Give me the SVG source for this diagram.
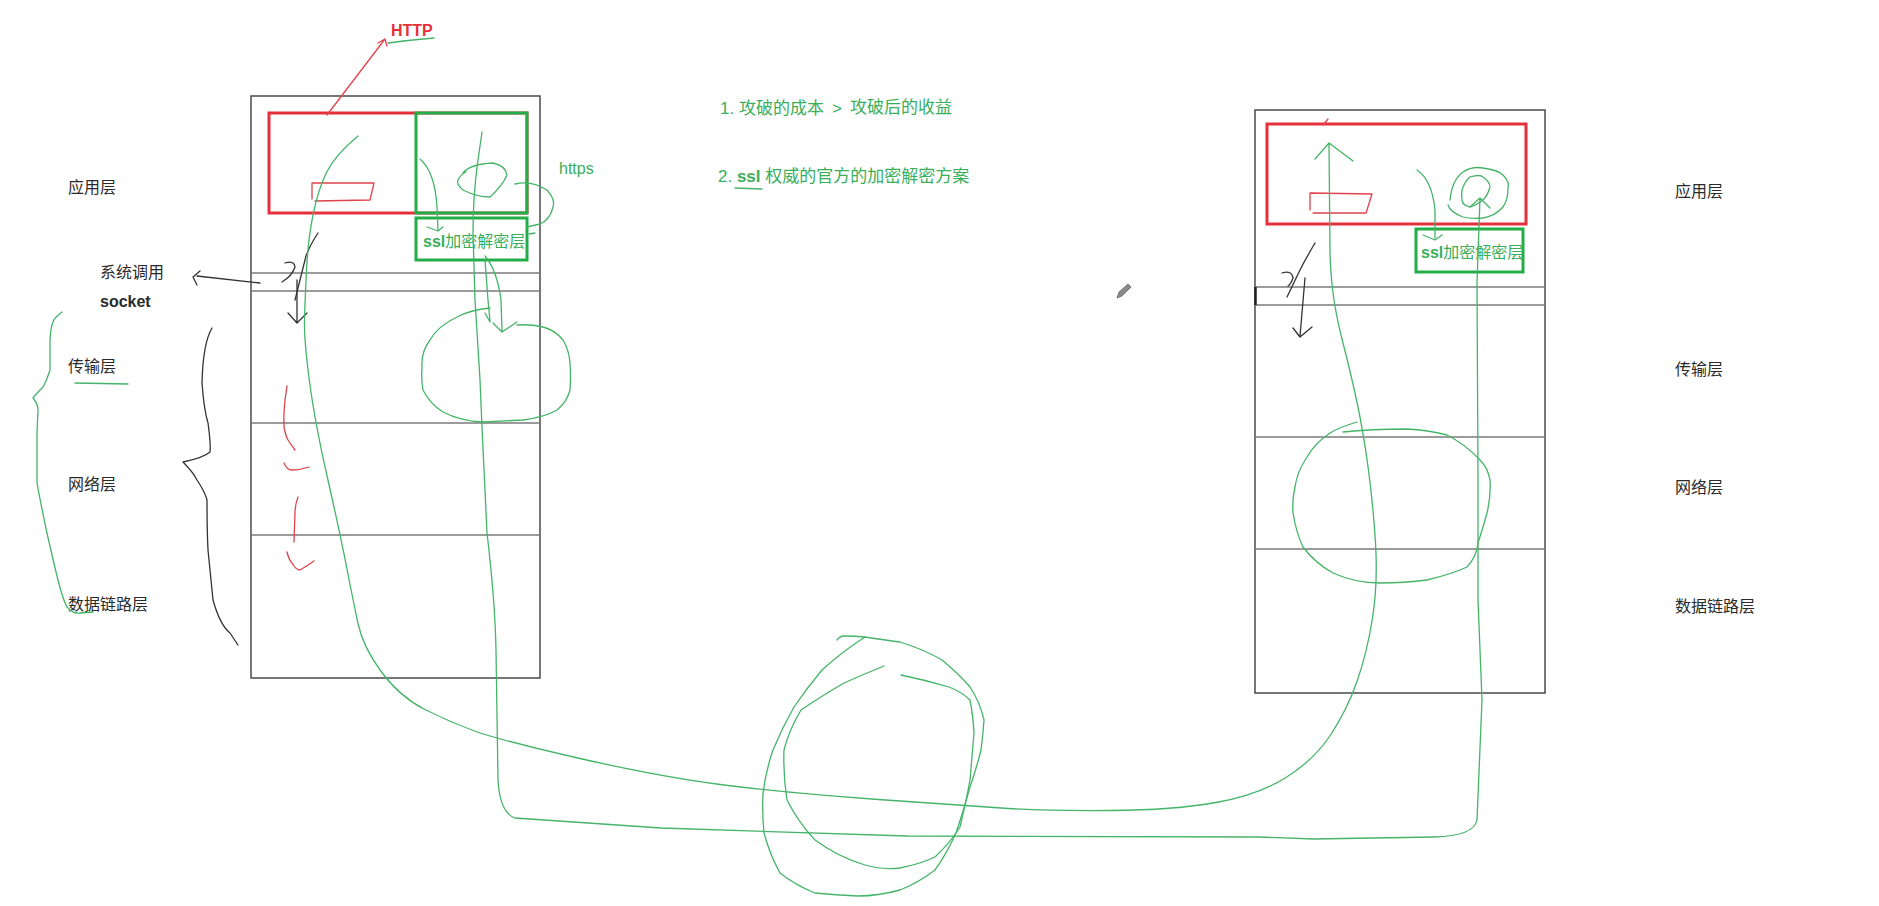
<svg xmlns="http://www.w3.org/2000/svg" width="1879" height="906" viewBox="0 0 1879 906">
<style>
.bg{fill:#ffffff}
.frame{fill:none;stroke:#4a4a4a;stroke-width:1.5}
.sep{stroke:#7a7a7a;stroke-width:1.3}
.redbox{fill:none;stroke:#e5303b;stroke-width:3}
.grnbox{fill:none;stroke:#22ad48;stroke-width:3}
.g{fill:none;stroke:#45b468;stroke-width:1.3;stroke-linecap:round;stroke-linejoin:round}
.r{fill:none;stroke:#e0434b;stroke-width:1.3;stroke-linecap:round;stroke-linejoin:round}
.k{fill:none;stroke:#333333;stroke-width:1.3;stroke-linecap:round;stroke-linejoin:round}
.lbl{font-family:"Liberation Sans","Noto Sans CJK SC",sans-serif;font-size:16px;fill:#2a2a2a}
.gt{font-family:"Liberation Sans","Noto Sans CJK SC",sans-serif;font-size:17px;fill:#3aae5a}
.st{font-family:"Liberation Sans","Noto Sans CJK SC",sans-serif;font-size:16px;fill:#3aae5a}
.b{font-weight:bold}
</style>
<rect class="bg" x="0" y="0" width="1879" height="906"/>

<g id="left-stack">
  <rect class="frame" x="251" y="96" width="289" height="582"/>
  <line class="sep" x1="251" y1="273" x2="540" y2="273"/>
  <line class="sep" x1="251" y1="291" x2="540" y2="291"/>
  <line class="sep" x1="251" y1="423" x2="540" y2="423"/>
  <line class="sep" x1="251" y1="535" x2="540" y2="535"/>
  <rect class="redbox" x="269" y="113" width="258" height="100"/>
  <rect class="grnbox" x="416" y="113" width="111" height="100"/>
  <rect class="grnbox" x="416" y="218" width="111" height="42"/>
  <text class="st" x="423" y="247"><tspan class="b">ssl</tspan>加密解密层</text>
</g>

<g id="right-stack">
  <rect class="frame" x="1255" y="110" width="290" height="583"/>
  <line class="sep" x1="1255" y1="287" x2="1545" y2="287"/>
  <line class="sep" x1="1255" y1="305" x2="1545" y2="305"/>
  <line class="sep" x1="1255" y1="437" x2="1545" y2="437"/>
  <line class="sep" x1="1255" y1="549" x2="1545" y2="549"/>
  <line x1="1255.5" y1="287" x2="1255.5" y2="305" stroke="#222" stroke-width="2.5"/>
  <rect class="redbox" x="1267" y="124" width="259" height="100"/>
  <rect class="grnbox" x="1416" y="229" width="107" height="43"/>
  <text class="st" x="1421" y="258"><tspan class="b">ssl</tspan>加密解密层</text>
</g>

<g id="left-labels">
  <text class="lbl" x="68" y="193">应用层</text>
  <text class="lbl" x="100" y="278">系统调用</text>
  <text class="lbl b" x="100" y="307">socket</text>
  <text class="lbl" x="68" y="372">传输层</text>
  <text class="lbl" x="68" y="490">网络层</text>
  <text class="lbl" x="68" y="610">数据链路层</text>
</g>

<g id="right-labels">
  <text class="lbl" x="1675" y="197">应用层</text>
  <text class="lbl" x="1675" y="375">传输层</text>
  <text class="lbl" x="1675" y="493">网络层</text>
  <text class="lbl" x="1675" y="612">数据链路层</text>
</g>

<g id="notes">
  <text x="391" y="36" font-family="Liberation Sans, sans-serif" font-size="16" font-weight="bold" fill="#e5303b">HTTP</text>
  <text class="st" x="559" y="174">https</text>
  <text class="gt" x="720" y="114">1. 攻破的成本</text>
  <text class="gt" x="832" y="114">&gt;</text>
  <text class="gt" x="850" y="113">攻破后的收益</text>
  <text class="gt" x="718" y="182">2. <tspan class="b">ssl</tspan> 权威的官方的加密解密方案</text>
  <path class="g" d="M735,188 L762,189"/>
</g>

<g id="connectors">
  <!-- red HTTP arrow -->
  <path class="r" d="M327,115 L385,39 M378,43 L385,39 L387,46"/>
  <path class="g" d="M388,43 Q410,40 434,38"/>
  <!-- red small rects -->
  <path class="r" d="M312,183 L374,183 L370,200 L315,201 M312,183 L312,199"/>
  <path class="r" d="M1310,193 L1372,194 L1367,210 L1366,213 L1313,213 M1310,193 L1310,210"/>
  <path class="r" d="M1323,125 L1328,119"/>
  <!-- red dashes -->
  <path class="r" d="M287,386 Q283,410 284,427 Q286,437 288,440 Q292,446 295,450"/>
  <path class="r" d="M284,463 Q287,470 292,470 Q300,470 309,467"/>
  <path class="r" d="M298,497 Q295,505 295,513 L294,542"/>
  <path class="r" d="M287,552 Q289,560 292,563 Q296,570 300,570 Q307,566 314,561"/>

  <!-- black system call arrow -->
  <path class="k" d="M260,283 L197,276 M200,271 L193,277 L197,285"/>
  <!-- black squiggles left -->
  <path class="k" d="M318,233 Q310,245 306,256 L295,300"/>
  <path class="k" d="M285,263 Q294,260 295,267 Q292,276 282,282"/>
  <path class="k" d="M297,280 L297,322 M288,313 L297,323 L307,313"/>
  <!-- black squiggles right -->
  <path class="k" d="M1315,243 Q1305,260 1300,270 L1287,297"/>
  <path class="k" d="M1282,273 Q1292,270 1293,278 Q1291,284 1288,286"/>
  <path class="k" d="M1305,278 L1300,336 M1293,328 L1300,337 L1312,327"/>
  <!-- black brace -->
  <path class="k" d="M212,328 Q203,343 202,383 Q204,410 208,423 Q211,445 210,452 Q203,458 183,462 Q193,472 197,480 Q205,492 207,500 Q207,530 208,550 Q211,580 213,600 Q220,625 230,633 L238,645"/>

  <!-- green brace and underline -->
  <path class="g" d="M62,312 Q54,318 53,322 Q50,330 50,343 L50,370 Q46,382 43,387 Q36,394 33,398 Q38,404 38,410 L37,433 L37,483 Q42,510 47,533 Q53,560 58,580 Q63,600 67,607 Q73,614 80,613 L93,612"/>
  <path class="g" d="M75,383 L128,384"/>

  <!-- green marks in left app layer -->
  <path class="g" d="M420,159 Q435,172 437,207 L438,230 M427,227 L438,231 L443,227"/>
  <path class="g" d="M463,173 Q470,164 493,163 Q506,166 507,175 Q503,185 490,197 Q477,197 463,190 Q456,184 458,180 Q461,174 466,172"/>
  <path class="g" d="M515,184 Q531,180 547,190 Q556,200 553,207 Q550,220 540,224 L527,227 M529,234 L535,233"/>
  <path class="g" d="M485,256 Q497,270 501,300 L502,331 M493,323 L502,332 L517,322"/>
  <path class="g" d="M485,260 L488,300 L490,321 M485,313 L490,322"/>
  <!-- left big circle -->
  <path class="g" d="M490,308 Q470,310 457,317 Q438,326 430,340 Q421,352 422,367 Q421,380 423,390 Q430,404 443,412 Q460,421 483,422 L523,420 Q545,417 557,410 Q567,402 570,390 Q571,377 570,363 Q569,350 563,340 Q555,330 543,327 Q530,324 517,325"/>

  <!-- green marks in right app layer -->
  <path class="g" d="M1417,170 Q1432,180 1435,210 L1435,238 M1423,235 L1435,240 L1442,235"/>
  <path class="g" d="M1450,200 Q1452,180 1463,172 Q1472,166 1483,168 Q1498,170 1503,175 Q1510,182 1508,188 Q1508,200 1503,207 Q1495,216 1483,218 Q1470,219 1463,217 Q1450,212 1448,205"/>
  <path class="g" d="M1470,177 Q1480,174 1483,177 Q1490,182 1490,187 Q1488,195 1483,200 Q1475,206 1470,207 Q1462,205 1462,200 Q1461,192 1463,187 Q1466,180 1470,177"/>
  <!-- right big circle -->
  <path class="g" d="M1357,422 Q1340,427 1330,433 Q1315,443 1307,457 Q1297,472 1295,487 Q1292,500 1293,513 Q1296,532 1303,547 Q1315,563 1333,573 Q1355,583 1380,583 Q1405,583 1427,580 Q1452,574 1467,567 Q1477,556 1478,543 Q1483,528 1487,513 Q1491,497 1490,480 Q1488,468 1480,460 Q1465,444 1447,435 Q1428,430 1407,429 Q1370,429 1343,432"/>

  <!-- long path A: left app layer down, across bottom, up right stack -->
  <path class="g" d="M358,136 Q335,155 326.5,172.5 Q318,190 313,215 Q308,240 306.5,270 Q305,300 304.5,320 Q304,340 309.5,381.5 Q315,423 327.5,478 Q340,533 346.5,566.5 Q353,600 358,623.5 Q363,647 381.5,672 Q400,697 425,709.5 Q450,722 474.5,731 Q499,740 580,758.5 Q661,777 724,785 Q787,793 878.5,799.5 Q970,806 1008.5,808.5 Q1047,811 1110.5,810.5 Q1174,810 1216,802.5 Q1258,795 1286,777.5 Q1314,760 1330.5,735 Q1347,710 1357,681.5 Q1367,653 1372.5,618 Q1378,583 1375.5,543 Q1373,503 1368,466.5 Q1363,430 1356.5,400 Q1350,370 1343.5,345 Q1337,320 1334,300 Q1331,280 1330,255 L1329,143 M1315,159 L1329,143 L1353,161"/>
  <!-- long path B -->
  <path class="g" d="M482,132 L477,167 Q473,200 473,233 L475,300 L480,380 L482,427 L487,533 Q495,600 496,650 L498,780 Q500,813 515,818 L661,828 L907,836 L1258,837 L1314,839 L1434,837 Q1474,836 1477,820 L1482,700 L1478,600 L1478,480 L1477,283 L1480,198 M1471,206 L1480,198 L1490,208"/>

  <!-- bottom loops -->
  <path class="g" d="M837,640 Q840,636 844,636 Q855,636 865,637 Q885,640 900,642 Q925,650 942,660 Q960,675 970,687 Q980,702 984,720 Q983,735 981,750 Q976,770 970,787 Q963,812 956,833 Q946,855 935,870 Q918,883 900,890 Q878,896 858,896 Q835,895 815,893 Q795,885 780,873 Q770,855 764,833 Q762,813 763,793 Q766,770 773,750 Q782,728 794,707 Q807,688 822,670 Q843,651 865,637"/>
  <path class="g" d="M884,666 Q862,675 844,683 Q820,697 801,710 Q789,730 784,750 Q783,775 787,800 Q798,822 815,840 Q838,857 865,865 Q882,870 900,868 Q920,864 935,857 Q950,843 960,827 Q966,803 970,780 Q972,757 974,733 Q973,715 970,700 Q962,692 949,687 Q925,680 901,675"/>
</g>

<g id="pencil">
  <path d="M1117,298 L1119,292 L1128,284 L1131,287 L1122,296 Z" fill="#8a8a8a" stroke="#666" stroke-width="0.8"/>
</g>
</svg>
